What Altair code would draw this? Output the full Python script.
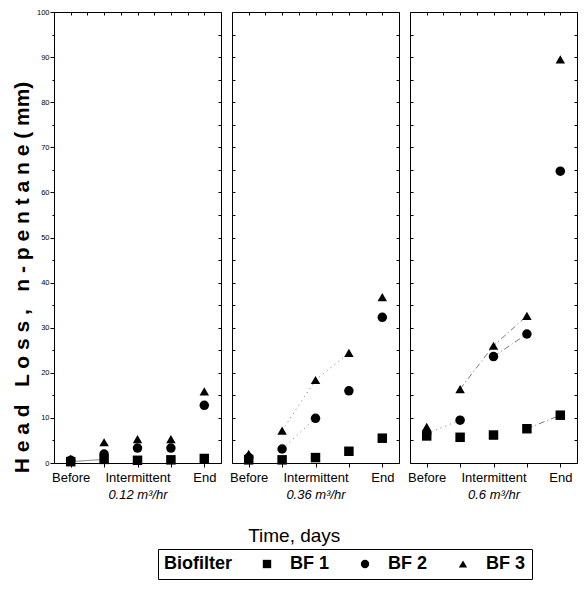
import altair as alt
import pandas as pd

# ---------------- data ----------------
positions = [1, 2, 3, 4, 5]
position_labels = ["Before", "", "Intermittent", "", "End"]
flow_rates = ["0.12 m³/hr", "0.36 m³/hr", "0.6 m³/hr"]
series_names = ["BF 1", "BF 2", "BF 3"]

bf1_012 = [0.3, 0.8, 0.6, 0.7, 1.0]
bf2_012 = [0.6, 2.0, 3.3, 3.3, 12.8]
bf3_012 = [0.9, 4.6, 5.3, 5.3, 15.9]

bf1_036 = [0.7, 0.7, 1.2, 2.6, 5.5]
bf2_036 = [1.2, 3.1, 9.9, 16.0, 32.3]
bf3_036 = [2.0, 7.2, 18.4, 24.4, 36.8]

bf1_06 = [6.0, 5.7, 6.2, 7.6, 10.6]
bf2_06 = [6.5, 9.5, 23.6, 28.6, 64.7]
bf3_06 = [8.0, 16.4, 26.0, 32.6, 89.5]

values = {
    ("0.12 m³/hr", "BF 1"): bf1_012, ("0.12 m³/hr", "BF 2"): bf2_012, ("0.12 m³/hr", "BF 3"): bf3_012,
    ("0.36 m³/hr", "BF 1"): bf1_036, ("0.36 m³/hr", "BF 2"): bf2_036, ("0.36 m³/hr", "BF 3"): bf3_036,
    ("0.6 m³/hr", "BF 1"): bf1_06, ("0.6 m³/hr", "BF 2"): bf2_06, ("0.6 m³/hr", "BF 3"): bf3_06,
}

# faint connecting lines seen in the figure: (flow, series, first position, last position, style)
line_segments = [
    ("0.12 m³/hr", "BF 1", 1, 2, "solid"),
    ("0.36 m³/hr", "BF 2", 2, 3, "dot"),
    ("0.36 m³/hr", "BF 3", 2, 4, "dot"),
    ("0.6 m³/hr", "BF 2", 1, 2, "dot"),
    ("0.6 m³/hr", "BF 3", 2, 4, "dashdot"),
    ("0.6 m³/hr", "BF 2", 3, 4, "dashdot"),
    ("0.6 m³/hr", "BF 1", 4, 5, "dashdot"),
]

rows = []
for (flow, s), vals in values.items():
    for p, v in zip(positions, vals):
        rows.append({"flow": flow, "series": s, "pos": p, "value": v})
df = pd.DataFrame(rows)

seg_rows = []
for k, (flow, s, a, b, style) in enumerate(line_segments):
    vals = values[(flow, s)]
    for p in positions:
        if a <= p <= b:
            seg_rows.append({"flow": flow, "series": s, "pos": p, "value": vals[p - 1],
                             "seg": k, "style": style})
seg_df = pd.DataFrame(seg_rows)

FONT = "Liberation Sans"
W, H = 167, 451

label_js = "[" + ",".join("'" + l + "'" for l in position_labels) + "]"
xscale = alt.Scale(domain=[0.5, 5.5], nice=False, zero=False)
yscale = alt.Scale(domain=[0, 100], nice=False, zero=True)

shape_scale = alt.Scale(domain=series_names, range=["square", "circle", "triangle-up"])
legend = alt.Legend(
    orient="none", legendX=104, legendY=537, direction="horizontal",
    title="Biofilter", titleOrient="left", titleFontSize=18, titleFontWeight="bold",
    titleFont=FONT, titleColor="black", titleBaseline="middle", titlePadding=25,
    labelFontSize=18, labelFontWeight="bold", labelFont=FONT, labelColor="black",
    symbolSize=70, symbolFillColor="black", symbolStrokeColor="black",
    strokeColor="black", padding=6, labelOffset=14, columnPadding=26,
)

dash_scale = alt.Scale(domain=["solid", "dot", "dashdot"], range=[[1, 0], [1, 4], [6, 3, 1, 3]])

NB = "\u00a0"
y_title = ("H e a d" + NB * 3 + "L o s s ," + NB * 3 + "n - p e n t a n e" + NB + "( mm)")


def panel(i, flow):
    d = df[df.flow == flow]
    sd = seg_df[seg_df.flow == flow]

    x_bottom = alt.Axis(
        orient="bottom", values=positions, labelExpr=label_js + "[datum.value - 1]",
        labelFontSize=13, labelPadding=4, labelFlush=False, tickSize=4, domain=False,
        title=flow, titleFontSize=13, titleFontStyle="italic", titleFontWeight="normal",
        titlePadding=4, grid=False, minExtent=0,
    )
    if i == 0:
        y_left = alt.Axis(
            orient="left", values=list(range(0, 101, 5)),
            labelExpr="datum.value % 10 === 0 ? datum.label : ''",
            tickSize={"condition": {"test": "datum.value % 10 === 0", "value": 4}, "value": 2},
            labelFontSize=7.5, labelPadding=1, domain=False, grid=False, minExtent=0,
            title=y_title, titleFontSize=21, titleFontWeight="bold",
            titleX=-32, titleY=265, titleAngle=270, titleBaseline="middle", titleAlign="center",
        )
    else:
        y_left = alt.Axis(
            orient="left", values=list(range(0, 101, 5)), labels=False, title=None,
            tickSize=3, offset=-3, domain=False, grid=False, minExtent=0,
        )
    x_top = alt.Axis(orient="top", values=[1 + 0.5 * k for k in range(9)], labels=False,
                     title=None, tickSize=3, offset=-3, domain=False, grid=False, minExtent=0)
    y_right = alt.Axis(orient="right", values=list(range(0, 101, 5)), labels=False,
                       title=None, tickSize=3, offset=-3, domain=False, grid=False, minExtent=0)

    pts = alt.Chart(d).mark_point(filled=True, size=90, color="black", opacity=1).encode(
        x=alt.X("pos:Q", scale=xscale, axis=x_bottom),
        y=alt.Y("value:Q", scale=yscale, axis=y_left),
        shape=alt.Shape("series:N", scale=shape_scale, legend=legend),
    )
    lines = alt.Chart(sd).mark_line(color="#555555", strokeWidth=0.8).encode(
        x=alt.X("pos:Q", scale=xscale, axis=x_top),
        y=alt.Y("value:Q", scale=yscale, axis=y_right),
        detail="seg:N",
        strokeDash=alt.StrokeDash("style:N", scale=dash_scale, legend=None),
    )
    return alt.layer(lines, pts).resolve_axis(x="independent", y="independent").properties(
        width=W, height=H)


chart = alt.hconcat(*[panel(i, f) for i, f in enumerate(flow_rates)], spacing=11,
                    bounds="flush").properties(
    title=alt.TitleParams("Time, days", orient="bottom", anchor="middle", fontSize=19,
                          fontWeight="normal", font=FONT, color="black", offset=-53),
    autosize=alt.AutoSizeParams(type="none"),
    padding={"left": 46, "top": 4, "right": 524, "bottom": 568},
).configure_view(stroke="black", strokeWidth=1).configure_axis(
    labelFont=FONT, titleFont=FONT, labelColor="black", titleColor="black",
    tickColor="black", grid=False,
)

chart.save("out.html", embed_options={"renderer": "svg", "actions": False})
